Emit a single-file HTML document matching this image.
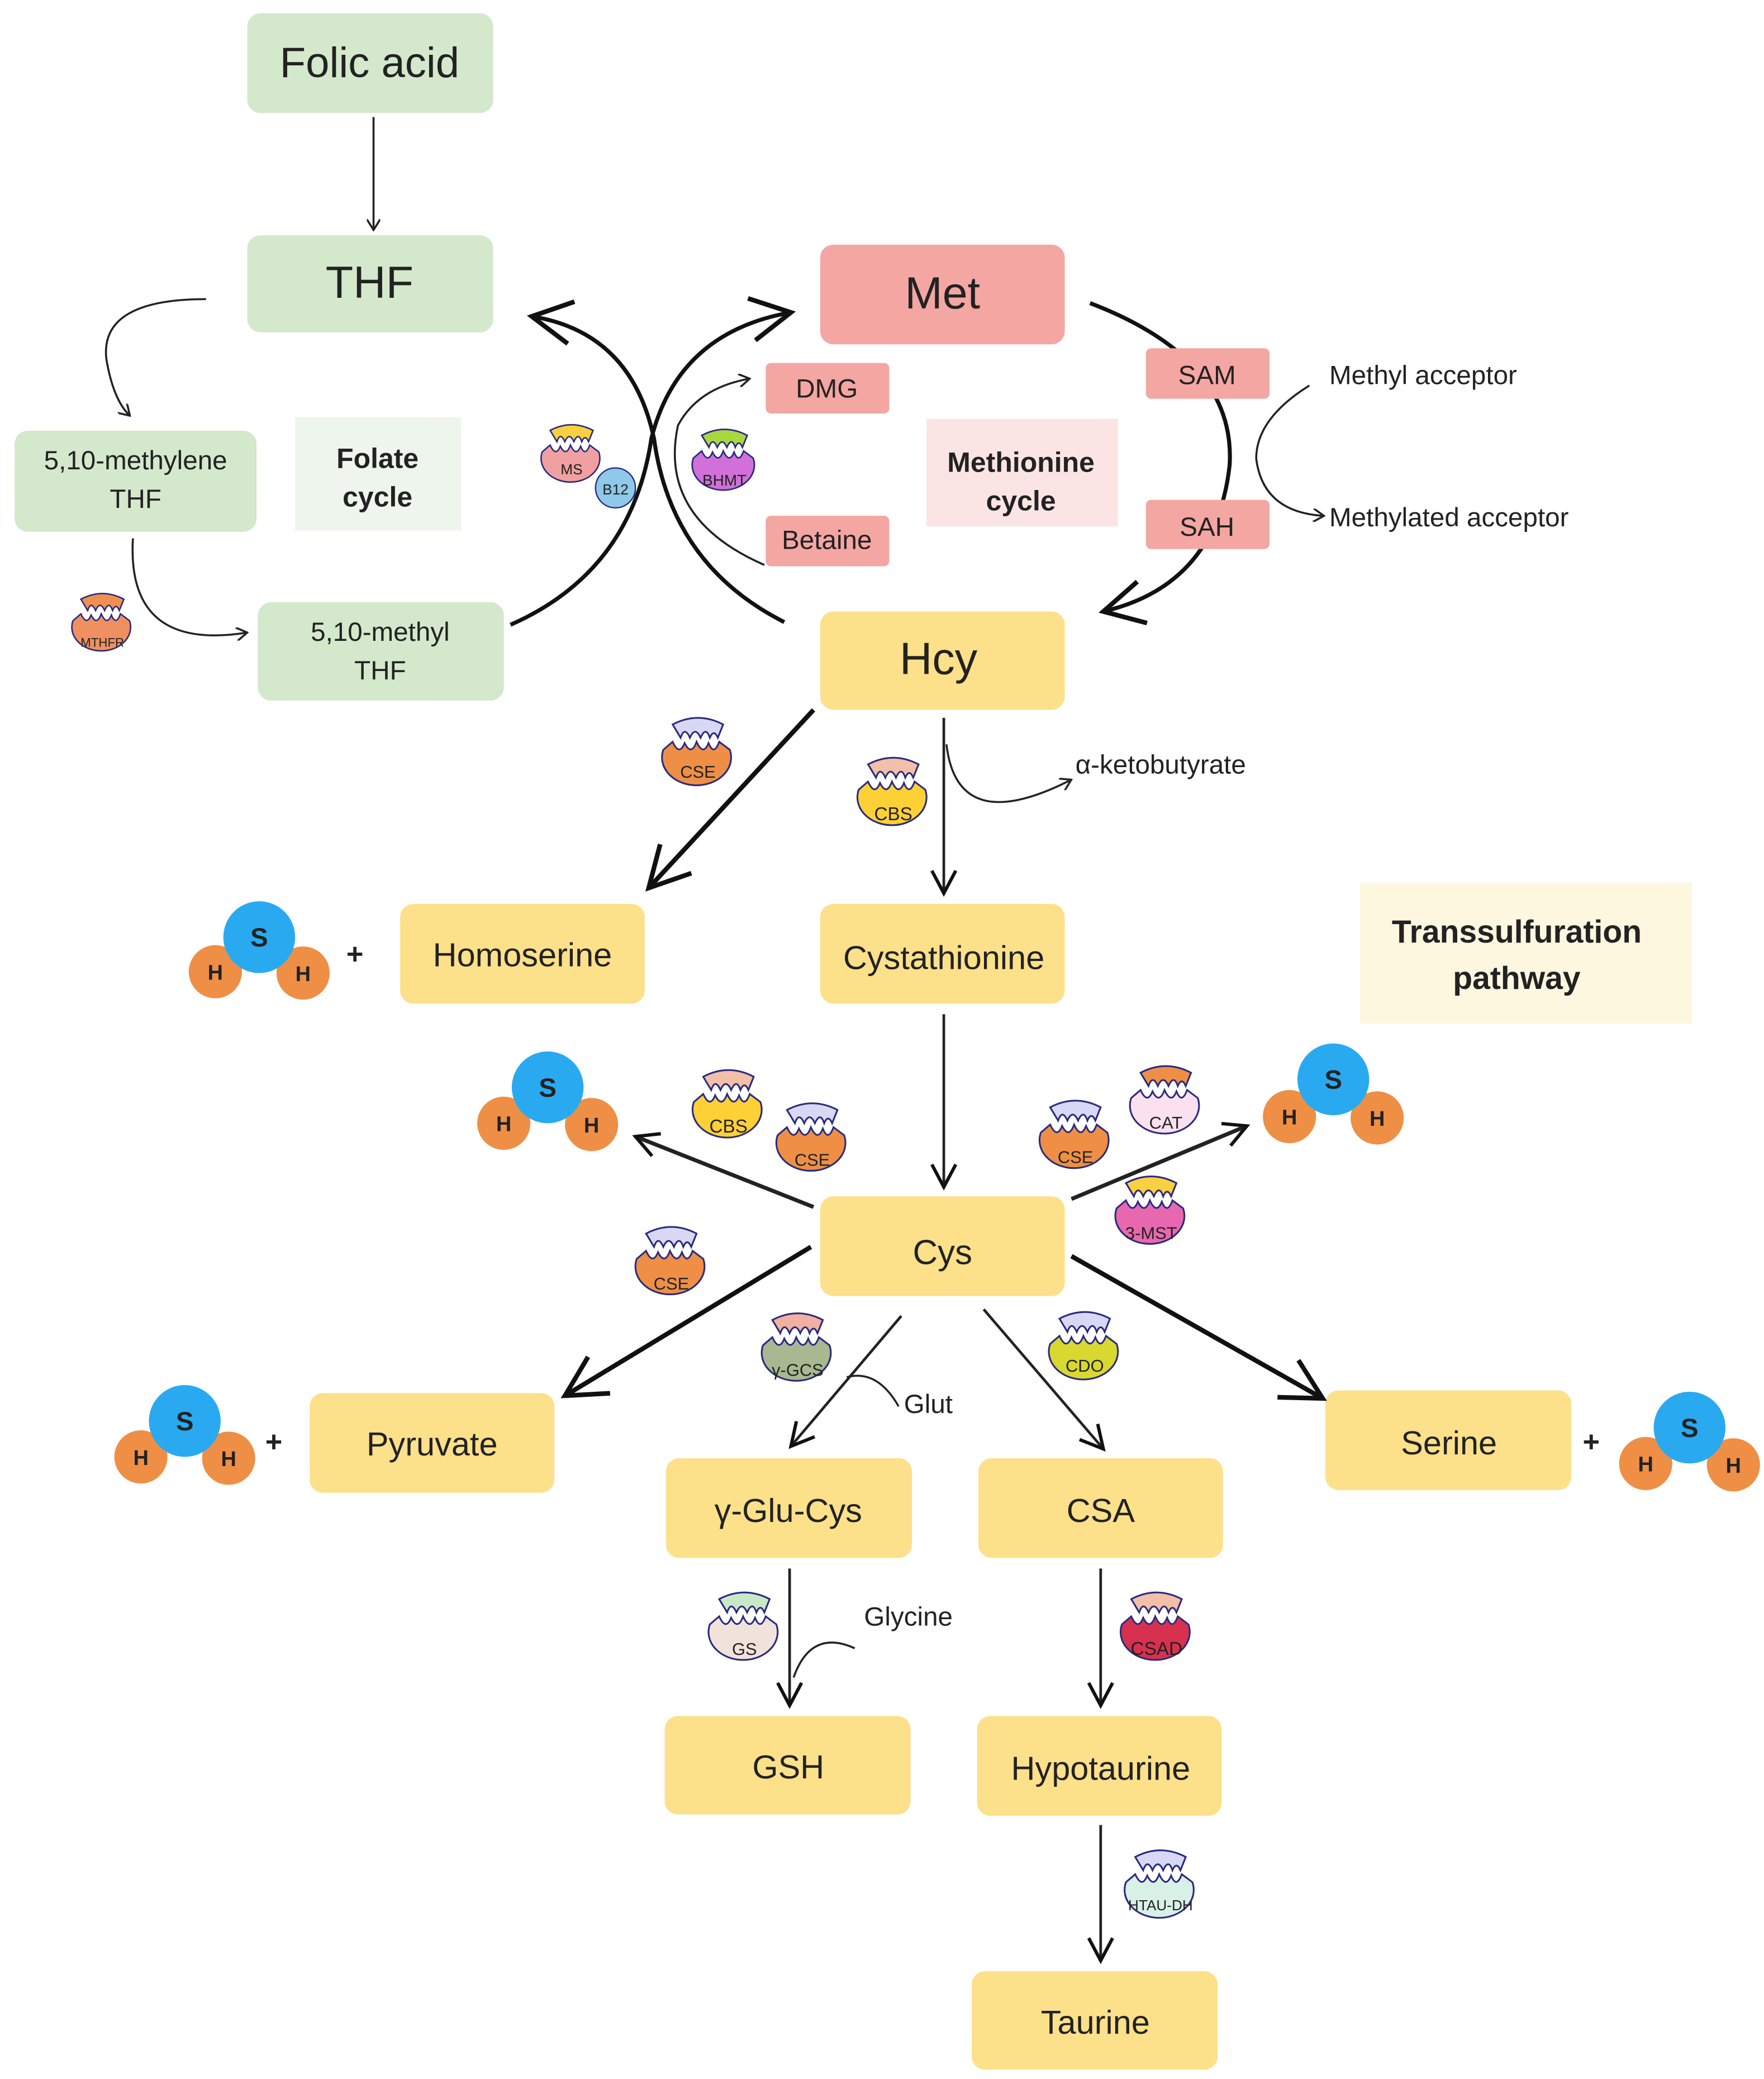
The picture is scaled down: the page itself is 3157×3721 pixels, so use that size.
<!DOCTYPE html>
<html><head><meta charset="utf-8"><style>
html,body{margin:0;padding:0;background:#fff}
svg{display:block}
text{font-family:"Liberation Sans","DejaVu Sans",sans-serif;fill:#222}
</style></head><body>
<svg width="3157" height="3721" viewBox="0 0 1327 1564" xmlns="http://www.w3.org/2000/svg">
<defs>
<marker id="a" markerWidth="10" markerHeight="10" refX="8" refY="5" orient="auto" markerUnits="userSpaceOnUse"><path d="M1,0 L9,5 L1,10" fill="none" stroke="#222" stroke-width="1.5"/></marker>
<marker id="b" markerWidth="40" markerHeight="40" refX="34" refY="20" orient="auto" markerUnits="userSpaceOnUse"><path d="M4,4 L34,20 L4,36" fill="none" stroke="#111" stroke-width="3.5"/></marker>
<marker id="c" markerWidth="24" markerHeight="24" refX="20" refY="12" orient="auto" markerUnits="userSpaceOnUse"><path d="M3,3 L20,12 L3,21" fill="none" stroke="#111" stroke-width="2.5"/></marker>
<g id="body"><path d="M-26,-6 L-19,-12 Q-14,-1 -10,-11 Q-5,-1 -1,-12 Q4,-1 8,-11 Q12,-1 16,-12 L24,-6 A26,21 0 1 1 -26,-6 Z" stroke="#2a2a80" stroke-width="1.3"/></g>
<g id="cap"><path d="M-19,-25 Q0,-35 19,-25 L15,-15 Q12,-22 9,-15 Q6,-24 2,-15 Q-2,-24 -6,-15 Q-10,-24 -13,-15 Z" stroke="#2a2a80" stroke-width="1.3"/></g>
</defs>

<!-- cycle arrows (behind boxes) -->
<g fill="none" stroke="#111" stroke-width="3" marker-end="url(#b)">
<path d="M384,470 Q475,430 490,330 Q510,250 595,235"/>
<path d="M590,468 Q505,425 492,330 Q475,250 400,238"/>
<path d="M820,228 Q930,270 925,350 Q915,440 830,460"/>
</g>

<!-- boxes -->
<g stroke="none">
<rect x="186" y="10" width="185" height="75" rx="10" fill="#d4e8cc"/>
<rect x="186" y="177" width="185" height="73" rx="10" fill="#d4e8cc"/>
<rect x="11" y="324" width="182" height="76" rx="10" fill="#d4e8cc"/>
<rect x="222" y="314" width="125" height="85" fill="#eef5ec"/>
<rect x="194" y="453" width="185" height="74" rx="10" fill="#d4e8cc"/>
<rect x="617" y="184" width="184" height="75" rx="10" fill="#f4a6a3"/>
<rect x="576" y="273" width="93" height="38" rx="4" fill="#f4a6a3"/>
<rect x="576" y="388" width="93" height="38" rx="4" fill="#f4a6a3"/>
<rect x="862" y="262" width="93" height="38" rx="4" fill="#f4a6a3"/>
<rect x="862" y="376" width="93" height="37" rx="4" fill="#f4a6a3"/>
<rect x="697" y="315" width="144" height="81" fill="#fbe5e4"/>
<rect x="1023" y="664" width="250" height="106" fill="#fdf7e0"/>
<g fill="#fde08a">
<rect x="617" y="460" width="184" height="74" rx="10"/>
<rect x="301" y="680" width="184" height="75" rx="10"/>
<rect x="617" y="680" width="184" height="75" rx="10"/>
<rect x="617" y="900" width="184" height="75" rx="10"/>
<rect x="233" y="1048" width="184" height="75" rx="10"/>
<rect x="501" y="1097" width="185" height="75" rx="10"/>
<rect x="736" y="1097" width="184" height="75" rx="10"/>
<rect x="997" y="1046" width="185" height="75" rx="10"/>
<rect x="500" y="1291" width="185" height="74" rx="10"/>
<rect x="735" y="1291" width="184" height="75" rx="10"/>
<rect x="731" y="1483" width="185" height="74" rx="10"/>
</g></g>

<!-- texts -->
<g text-anchor="middle">
<text x="278" y="58" font-size="32">Folic acid</text>
<text x="278" y="224" font-size="34">THF</text>
<text x="102" y="353" font-size="20">5,10-methylene</text>
<text x="102" y="382" font-size="20">THF</text>
<text x="284" y="352" font-size="21" font-weight="bold" fill="#444">Folate</text>
<text x="284" y="381" font-size="21" font-weight="bold" fill="#444">cycle</text>
<text x="286" y="482" font-size="20">5,10-methyl</text>
<text x="286" y="511" font-size="20">THF</text>
<text x="709" y="232" font-size="34">Met</text>
<text x="622" y="299" font-size="20">DMG</text>
<text x="622" y="413" font-size="20">Betaine</text>
<text x="908" y="289" font-size="20">SAM</text>
<text x="908" y="403" font-size="20">SAH</text>
<text x="768" y="355" font-size="21" font-weight="bold" fill="#444">Methionine</text>
<text x="768" y="384" font-size="21" font-weight="bold" fill="#444">cycle</text>
<text x="706" y="507" font-size="34">Hcy</text>
<text x="393" y="727" font-size="25">Homoserine</text>
<text x="710" y="729" font-size="25">Cystathionine</text>
<text x="1141" y="709" font-size="24" font-weight="bold" fill="#444">Transsulfuration</text>
<text x="1141" y="744" font-size="24" font-weight="bold" fill="#444">pathway</text>
<text x="709" y="951" font-size="26">Cys</text>
<text x="325" y="1095" font-size="25">Pyruvate</text>
<text x="593" y="1145" font-size="25">γ-Glu-Cys</text>
<text x="828" y="1145" font-size="25">CSA</text>
<text x="1090" y="1094" font-size="25">Serine</text>
<text x="593" y="1338" font-size="25">GSH</text>
<text x="828" y="1339" font-size="25">Hypotaurine</text>
<text x="824" y="1530" font-size="25">Taurine</text>
</g>
<g font-size="20">
<text x="1000" y="289">Methyl acceptor</text>
<text x="1000" y="396">Methylated acceptor</text>
<text x="809" y="582">α-ketobutyrate</text>
<text x="680" y="1063">Glut</text>
<text x="650" y="1223">Glycine</text>
</g>

<!-- thin arrows -->
<g fill="none" stroke="#222" stroke-width="1.5" marker-end="url(#a)">
<path d="M281,88 L281,172"/>
<path d="M155,225 Q75,225 80,270 Q85,300 97,312"/>
<path d="M100,405 Q95,490 185,476"/>
<path d="M575,425 Q495,390 510,320 Q525,292 563,285"/>
<path d="M985,290 Q945,315 945,345 Q950,385 995,388"/>
<path d="M712,560 Q720,630 805,587"/>
<path d="M676,1058 Q660,1030 637,1036" marker-end="none"/>
<path d="M643,1240 Q610,1225 597,1262" marker-end="none"/>
</g>
<g fill="none" stroke="#222" stroke-width="2" marker-end="url(#c)">
<path d="M710,540 L710,672"/>
<path d="M710,763 L710,893"/>
<path d="M678,990 L595,1088"/>
<path d="M740,985 L830,1090"/>
<path d="M594,1180 L594,1283"/>
<path d="M828,1180 L828,1283"/>
<path d="M828,1373 L828,1475"/>
<path d="M612,908 L478,855" stroke-width="3"/>
<path d="M806,902 L938,847" stroke-width="3"/>
</g>
<!-- thick arrows -->
<g fill="none" stroke="#111" stroke-width="3.5" marker-end="url(#b)">
<path d="M612,534 L488,668"/>
<path d="M610,938 L425,1050"/>
<path d="M806,945 L995,1052"/>
</g>

<!-- enzymes -->
<g font-size="13" text-anchor="middle">
<g transform="translate(430,345) scale(0.85)"><use href="#body" fill="#f0a0a0"/><use href="#cap" fill="#f8d040"/><text y="14" font-size="13">MS</text></g>
<circle cx="463" cy="367" r="15" fill="#8fc8e8" stroke="#2a2a80"/><text x="463" y="372" font-size="11" text-anchor="middle">B12</text>
<g transform="translate(545,350) scale(0.9)"><use href="#body" fill="#d070d8"/><use href="#cap" fill="#a8d840"/><text y="17" font-size="13">BHMT</text></g>
<g transform="translate(77,472) scale(0.85)"><use href="#body" fill="#f09060"/><use href="#cap" fill="#f09050"/><text y="17" font-size="11">MTHFR</text></g>
<g transform="translate(525,570)"><use href="#body" fill="#ee8f45"/><use href="#cap" fill="#d8d8f4"/><text y="15">CSE</text></g>
<g transform="translate(672,600)"><use href="#body" fill="#fdd035"/><use href="#cap" fill="#f2c0a8"/><text y="17" font-size="14">CBS</text></g>
<g transform="translate(548,835)"><use href="#body" fill="#fdd035"/><use href="#cap" fill="#f2c0a8"/><text y="17" font-size="14">CBS</text></g>
<g transform="translate(611,860)"><use href="#body" fill="#ee8f45"/><use href="#cap" fill="#d8d8f4"/><text y="17">CSE</text></g>
<g transform="translate(809,858)"><use href="#body" fill="#ee8f45"/><use href="#cap" fill="#d8d8f4"/><text y="17">CSE</text></g>
<g transform="translate(877,832)"><use href="#body" fill="#fbe0f0"/><use href="#cap" fill="#ee8f45"/><text y="17">CAT</text></g>
<g transform="translate(866,915)"><use href="#body" fill="#e868b0"/><use href="#cap" fill="#f8d040"/><text y="17">3-MST</text></g>
<g transform="translate(505,953)"><use href="#body" fill="#ee8f45"/><use href="#cap" fill="#d8d8f4"/><text y="17">CSE</text></g>
<g transform="translate(600,1018)"><use href="#body" fill="#a8b890"/><use href="#cap" fill="#f2b0a0"/><text y="17">γ-GCS</text></g>
<g transform="translate(816,1017)"><use href="#body" fill="#d8d830"/><use href="#cap" fill="#d8d8f4"/><text y="15">CDO</text></g>
<g transform="translate(560,1228)"><use href="#body" fill="#f2e2dc"/><use href="#cap" fill="#c8e8c8"/><text y="17">GS</text></g>
<g transform="translate(870,1228)"><use href="#body" fill="#d8304f"/><use href="#cap" fill="#f2c0a8"/><text y="17" font-size="14">CSAD</text></g>
<g transform="translate(873,1422)"><use href="#body" fill="#d8f0e6"/><use href="#cap" fill="#d8d8f4"/><text y="15" font-size="11">HTAU-DH</text></g>
</g>

<!-- H2S -->
<g font-weight="bold" text-anchor="middle">
<g transform="translate(195,705)"><circle cx="-33" cy="26" r="20" fill="#ee8f45"/><circle cx="33" cy="27" r="20" fill="#ee8f45"/><circle cx="0" cy="0" r="27" fill="#29aaf0"/><text y="7" font-size="20">S</text><text x="-33" y="32" font-size="16">H</text><text x="33" y="33" font-size="16">H</text></g>
<text x="267" y="725" font-size="22">+</text>
<g transform="translate(412,818)"><circle cx="-33" cy="27" r="20" fill="#ee8f45"/><circle cx="33" cy="28" r="20" fill="#ee8f45"/><circle cx="0" cy="0" r="27" fill="#29aaf0"/><text y="7" font-size="20">S</text><text x="-33" y="33" font-size="16">H</text><text x="33" y="34" font-size="16">H</text></g>
<g transform="translate(1003,812)"><circle cx="-33" cy="28" r="20" fill="#ee8f45"/><circle cx="33" cy="29" r="20" fill="#ee8f45"/><circle cx="0" cy="0" r="27" fill="#29aaf0"/><text y="7" font-size="20">S</text><text x="-33" y="34" font-size="16">H</text><text x="33" y="35" font-size="16">H</text></g>
<g transform="translate(139,1069)"><circle cx="-33" cy="27" r="20" fill="#ee8f45"/><circle cx="33" cy="28" r="20" fill="#ee8f45"/><circle cx="0" cy="0" r="27" fill="#29aaf0"/><text y="7" font-size="20">S</text><text x="-33" y="33" font-size="16">H</text><text x="33" y="34" font-size="16">H</text></g>
<text x="206" y="1092" font-size="22">+</text>
<text x="1197" y="1092" font-size="22">+</text>
<g transform="translate(1271,1074)"><circle cx="-33" cy="27" r="20" fill="#ee8f45"/><circle cx="33" cy="28" r="20" fill="#ee8f45"/><circle cx="0" cy="0" r="27" fill="#29aaf0"/><text y="7" font-size="20">S</text><text x="-33" y="33" font-size="16">H</text><text x="33" y="34" font-size="16">H</text></g>
</g>
</svg>
</body></html>
